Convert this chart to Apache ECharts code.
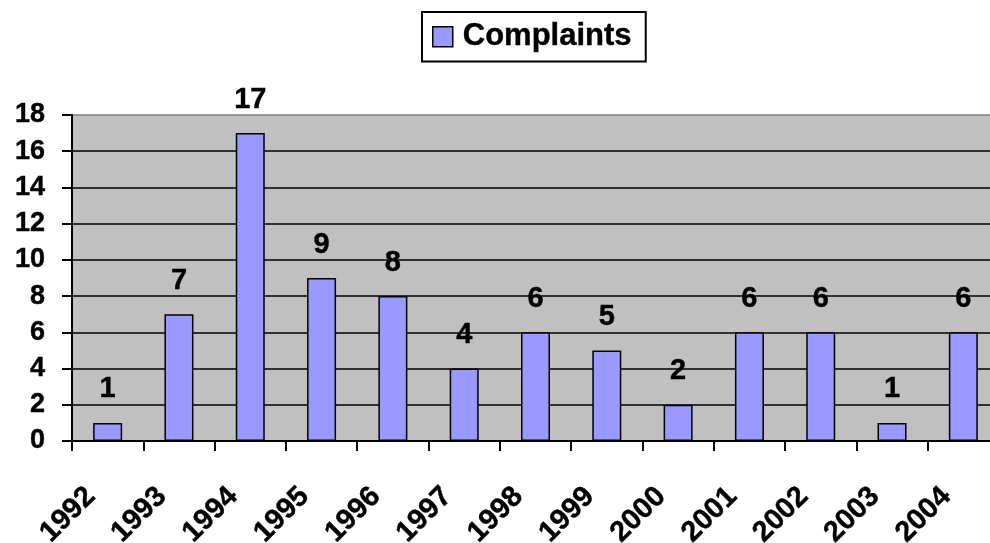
<!DOCTYPE html>
<html>
<head>
<meta charset="utf-8">
<script src="https://cdn.jsdelivr.net/npm/echarts@6/dist/echarts.min.js"></script>
<style>
  html, body { margin: 0; padding: 0; background: #fff; }
  #main { width: 990px; height: 543px; }
</style>
</head>
<body>
<div id="main"></div>
<script>
// 数据
let years = ['1992', '1993', '1994', '1995', '1996', '1997', '1998', '1999', '2000', '2001', '2002', '2003', '2004'];
let complaints = [1, 7, 17, 9, 8, 4, 6, 5, 2, 6, 6, 1, 6];
let yTicks = [0, 2, 4, 6, 8, 10, 12, 14, 16, 18];

let font = '"Liberation Sans", Arial, sans-serif';

// 网格线颜色: 最上面那条是灰色的边框
let splitColors = yTicks.map((v, i) => i === yTicks.length - 1 ? '#808080' : '#000');

// 粗一点的黑字
let boldText = (size) => ({
    fontFamily: font,
    fontWeight: 'bold',
    fontSize: size,
    color: '#000',
    textBorderColor: '#000',
    textBorderWidth: 0.4
});

let mychart = echarts.init(document.getElementById('main'));
let option = {
    animation: false,
    legend: {
        data: ['Complaints'],
        left: 422,
        top: 12,
        padding: [9, 14, 9, 10],
        borderColor: '#000',
        borderWidth: 2,
        itemWidth: 20,
        itemHeight: 20,
        icon: 'rect',
        itemStyle: { borderColor: '#000', borderWidth: 1.5 },
        textStyle: Object.assign(boldText(31), { padding: [0, 0, 0, 5] })
    },
    grid: {
        left: 72,
        right: -9,
        top: 115,
        bottom: 102,
        outerBoundsMode: 'none',
        containLabel: false,
        show: true,
        backgroundColor: '#c0c0c0',
        borderWidth: 0
    },
    xAxis: {
        type: 'category',
        data: years,
        boundaryGap: true,
        axisLine: { lineStyle: { color: '#000', width: 2 } },
        axisTick: { show: true, length: 10, lineStyle: { color: '#000', width: 2 } },
        axisLabel: Object.assign(boldText(29), {
            interval: 0,
            rotate: 45,
            margin: 34,
            padding: [0, 24, 0, 0]
        })
    },
    yAxis: {
        type: 'value',
        min: 0,
        max: 18,
        interval: 2,
        axisLine: { show: true, lineStyle: { color: '#000', width: 2 } },
        axisTick: { show: true, length: 10, lineStyle: { color: '#000', width: 2 } },
        axisLabel: Object.assign(boldText(27), { margin: 27 }),
        splitLine: { show: true, lineStyle: { color: splitColors, width: 1.5 } }
    },
    series: [{
        name: 'Complaints',
        type: 'bar',
        data: complaints,
        barWidth: 29,
        itemStyle: {
            color: '#9999ff',
            borderColor: '#000',
            borderWidth: 1.5
        },
        label: Object.assign(boldText(29), {
            show: true,
            position: 'top',
            distance: 19
        })
    }]
};
mychart.setOption(option);
</script>
</body>
</html>
